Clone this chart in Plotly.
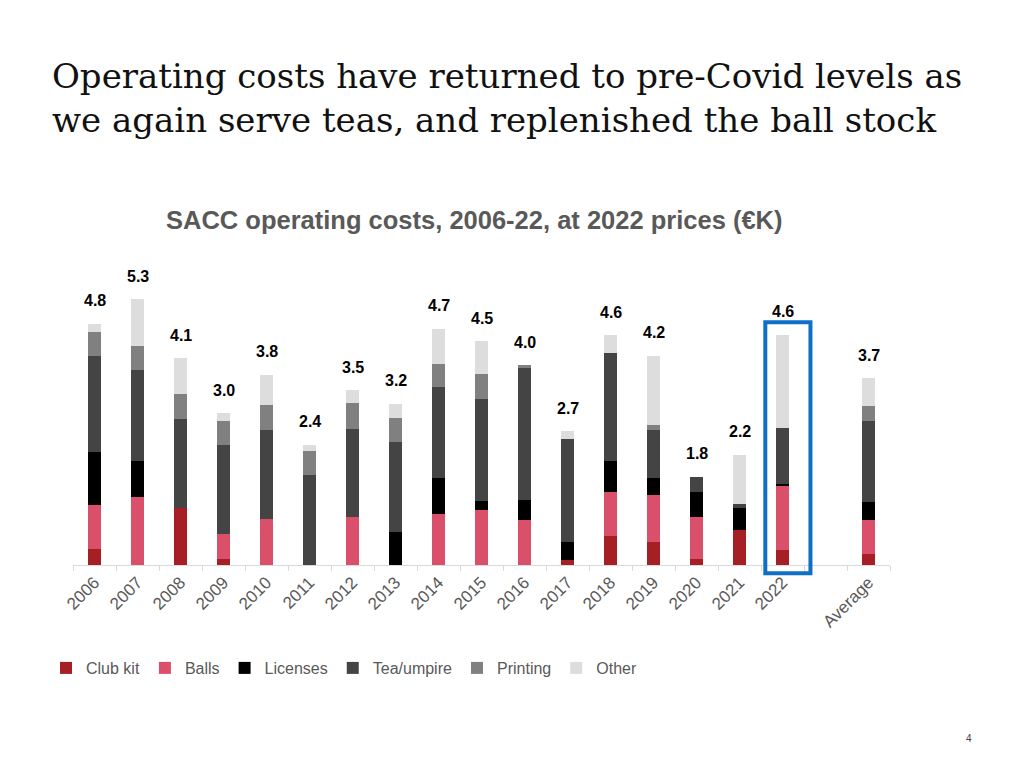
import plotly.graph_objects as go

# ---- data (values in €K, 2022 prices) ----
categories = ["2006", "2007", "2008", "2009", "2010", "2011", "2012", "2013", "2014",
              "2015", "2016", "2017", "2018", "2019", "2020", "2021", "2022", "Average"]
axis_order = categories[:-1] + [" "] + ["Average"]

club_kit   = [0.31, 0.00, 1.14, 0.12, 0.00, 0.00, 0.00, 0.00, 0.00, 0.00, 0.00, 0.09, 0.58, 0.45, 0.11, 0.70, 0.29, 0.21]
balls      = [0.89, 1.35, 0.00, 0.50, 0.92, 0.00, 0.95, 0.00, 1.01, 1.10, 0.89, 0.00, 0.88, 0.94, 0.85, 0.00, 1.28, 0.69]
licenses   = [1.05, 0.72, 0.00, 0.00, 0.00, 0.00, 0.00, 0.65, 0.73, 0.17, 0.40, 0.36, 0.62, 0.34, 0.49, 0.43, 0.04, 0.35]
tea_umpire = [1.91, 1.81, 1.78, 1.78, 1.78, 1.79, 1.77, 1.80, 1.80, 2.03, 2.63, 2.07, 2.15, 0.97, 0.31, 0.09, 1.13, 1.63]
printing   = [0.49, 0.48, 0.48, 0.48, 0.49, 0.48, 0.50, 0.49, 0.47, 0.50, 0.06, 0.00, 0.00, 0.10, 0.00, 0.00, 0.00, 0.29]
other      = [0.16, 0.94, 0.72, 0.15, 0.60, 0.13, 0.26, 0.27, 0.70, 0.66, 0.00, 0.15, 0.35, 1.37, 0.00, 0.98, 1.85, 0.55]

series = [
    ("Club kit", club_kit, "#A51F24"),
    ("Balls", balls, "#DA506B"),
    ("Licenses", licenses, "#000000"),
    ("Tea/umpire", tea_umpire, "#444444"),
    ("Printing", printing, "#808080"),
    ("Other", other, "#DDDDDD"),
]

totals = [sum(v) for v in zip(*[s[1] for s in series])]
highlight = "2022"
YMAX = 6.0

fig = go.Figure()
for name, vals, color in series:
    fig.add_trace(go.Bar(
        x=categories, y=vals, name=name,
        marker=dict(color=color, line=dict(width=0)),
        hoverinfo="x+y+name",
    ))

# total labels (positioned by category index on the category axis)
for cat, tot in zip(categories, totals):
    fig.add_annotation(
        x=axis_order.index(cat), y=tot, text=f"<b>{tot:.1f}</b>", showarrow=False,
        yshift=23, yanchor="middle",
        font=dict(family="Liberation Sans, Arial, sans-serif", size=16, color="#000000"),
    )

# highlight box around 2022
hi = axis_order.index(highlight)
fig.add_shape(
    type="rect", xref="x", yref="paper",
    x0=hi - 0.4, x1=hi + 0.65,
    y0=-0.027, y1=(totals[categories.index(highlight)] + 0.25) / YMAX,
    line=dict(color="#0F6FC6", width=4), fillcolor="rgba(0,0,0,0)",
)

# subtitle
fig.add_annotation(
    xref="paper", yref="paper", x=0.492, y=1.146,
    text="<b>SACC operating costs, 2006-22, at 2022 prices (€K)</b>",
    showarrow=False, xanchor="center", yanchor="middle",
    font=dict(family="Liberation Sans, Arial, sans-serif", size=25.5, color="#595959"),
)

# page number
fig.add_annotation(
    xref="paper", yref="paper", x=(969 - 73) / 817, y=-(738 - 565) / 301,
    text="4", showarrow=False, xanchor="center", yanchor="middle",
    font=dict(family="Liberation Sans, Arial, sans-serif", size=10, color="#404040"),
)

fig.update_layout(
    width=1024, height=768,
    margin=dict(l=65, r=142, t=256, b=211, pad=0),
    paper_bgcolor="white", plot_bgcolor="white",
    barmode="stack", bargap=0.69,
    title=dict(
        text="Operating costs have returned to pre-Covid levels as<br>we again serve teas, and replenished the ball stock",
        xref="container", yref="container", x=44 / 1024, y=1 - 80 / 768,
        xanchor="left", yanchor="top",
        font=dict(family="DejaVu Serif, Georgia, serif", size=34, color="#111111"),
    ),
    xaxis=dict(
        type="category", categoryorder="array", categoryarray=axis_order,
        range=[-0.5, len(axis_order) - 0.5],
        showline=True, linecolor="#D9D9D9", linewidth=1,
        ticks="outside", tickson="boundaries", ticklen=5, tickcolor="#D9D9D9",
        tickangle=-45, showgrid=False,
        tickfont=dict(family="Liberation Sans, Arial, sans-serif", size=17, color="#595959"),
    ),
    yaxis=dict(visible=False, range=[0, YMAX], showgrid=False, zeroline=False),
    legend=dict(
        orientation="h", x=(46 - 73) / 817, xanchor="left",
        y=-(668 - 565) / 301, yanchor="middle",
        font=dict(family="Liberation Sans, Arial, sans-serif", size=16, color="#595959"),
        traceorder="normal", itemclick=False, bgcolor="rgba(0,0,0,0)",
    ),
    showlegend=True,
)

fig.write_html("out.html")
